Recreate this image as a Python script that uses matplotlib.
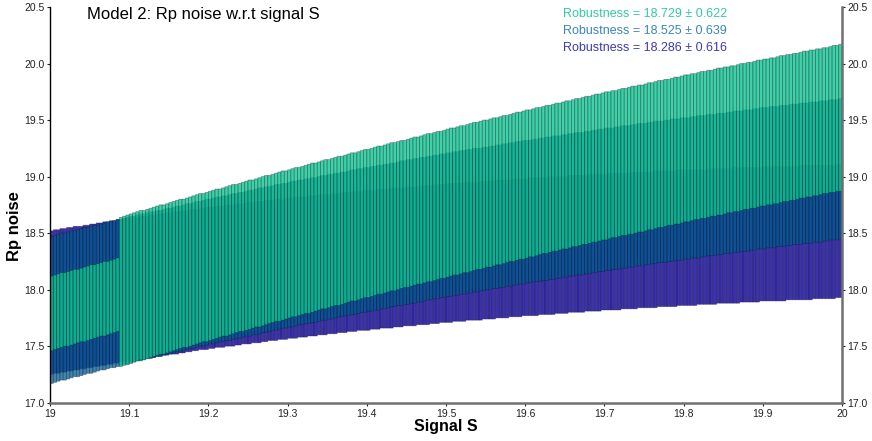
import numpy as np
import matplotlib
matplotlib.use("Agg")
import matplotlib.pyplot as plt

plt.rcParams['font.family'] = ['Liberation Sans', 'DejaVu Sans']

# ---------------- data ----------------
indigo_low = [
    17.25,17.26,17.26,17.27,17.27,17.28,17.28,17.29,17.29,17.30,17.30,17.31,17.31,17.32,17.32,17.33,17.33,17.34,17.34,17.35,17.35,17.36,17.36,17.37,
    17.37,17.38,17.38,17.39,17.39,17.40,17.40,17.40,17.41,17.41,17.42,17.42,17.43,17.43,17.43,17.44,17.44,17.45,17.45,17.46,17.46,17.47,17.47,17.47,
    17.48,17.48,17.49,17.49,17.49,17.50,17.50,17.50,17.51,17.51,17.52,17.52,17.52,17.53,17.53,17.53,17.54,17.54,17.55,17.55,17.55,17.56,17.56,17.56,
    17.57,17.57,17.57,17.58,17.58,17.58,17.59,17.59,17.59,17.60,17.60,17.60,17.61,17.61,17.61,17.62,17.62,17.62,17.63,17.63,17.63,17.64,17.64,17.64,
    17.64,17.65,17.65,17.65,17.66,17.66,17.66,17.66,17.67,17.67,17.67,17.68,17.68,17.68,17.68,17.69,17.69,17.69,17.69,17.70,17.70,17.70,17.71,17.71,
    17.71,17.71,17.72,17.72,17.72,17.72,17.73,17.73,17.73,17.73,17.73,17.74,17.74,17.74,17.74,17.75,17.75,17.75,17.75,17.76,17.76,17.76,17.76,17.77,
    17.77,17.77,17.77,17.77,17.78,17.78,17.78,17.78,17.78,17.79,17.79,17.79,17.79,17.80,17.80,17.80,17.80,17.80,17.81,17.81,17.81,17.81,17.81,17.82,
    17.82,17.82,17.82,17.82,17.82,17.83,17.83,17.83,17.83,17.83,17.84,17.84,17.84,17.84,17.84,17.84,17.85,17.85,17.85,17.85,17.85,17.85,17.86,17.86,
    17.86,17.86,17.86,17.86,17.87,17.87,17.87,17.87,17.87,17.87,17.88,17.88,17.88,17.88,17.88,17.88,17.88,17.89,17.89,17.89,17.89,17.89,17.89,17.90,
    17.90,17.90,17.90,17.90,17.90,17.90,17.90,17.91,17.91,17.91,17.91,17.91,17.91,17.91,17.91,17.92,17.92,17.92,17.92,17.92,17.92,17.92,17.93,17.93,
]
indigo_high = [
    18.52,18.53,18.53,18.54,18.54,18.55,18.55,18.56,18.56,18.56,18.57,18.57,18.58,18.58,18.59,18.59,18.60,18.60,18.61,18.61,18.62,18.62,18.63,18.63,
    18.63,18.64,18.64,18.65,18.65,18.65,18.66,18.66,18.67,18.67,18.67,18.68,18.68,18.69,18.69,18.69,18.70,18.70,18.71,18.71,18.71,18.72,18.72,18.73,
    18.73,18.73,18.74,18.74,18.74,18.75,18.75,18.75,18.76,18.76,18.76,18.77,18.77,18.77,18.78,18.78,18.78,18.79,18.79,18.79,18.80,18.80,18.80,18.81,
    18.81,18.81,18.82,18.82,18.82,18.82,18.83,18.83,18.83,18.84,18.84,18.84,18.84,18.85,18.85,18.85,18.86,18.86,18.86,18.86,18.87,18.87,18.87,18.88,
    18.88,18.88,18.88,18.89,18.89,18.89,18.89,18.90,18.90,18.90,18.90,18.90,18.91,18.91,18.91,18.91,18.92,18.92,18.92,18.92,18.93,18.93,18.93,18.93,
    18.94,18.94,18.94,18.94,18.94,18.95,18.95,18.95,18.95,18.95,18.96,18.96,18.96,18.96,18.96,18.97,18.97,18.97,18.97,18.97,18.98,18.98,18.98,18.98,
    18.98,18.99,18.99,18.99,18.99,18.99,18.99,19.00,19.00,19.00,19.00,19.00,19.00,19.01,19.01,19.01,19.01,19.01,19.01,19.02,19.02,19.02,19.02,19.02,
    19.02,19.03,19.03,19.03,19.03,19.03,19.03,19.03,19.04,19.04,19.04,19.04,19.04,19.04,19.04,19.05,19.05,19.05,19.05,19.05,19.05,19.05,19.06,19.06,
    19.06,19.06,19.06,19.06,19.06,19.06,19.06,19.07,19.07,19.07,19.07,19.07,19.07,19.07,19.07,19.08,19.08,19.08,19.08,19.08,19.08,19.08,19.08,19.08,
    19.09,19.09,19.09,19.09,19.09,19.09,19.09,19.09,19.09,19.09,19.09,19.10,19.10,19.10,19.10,19.10,19.10,19.10,19.10,19.10,19.10,19.10,19.11,19.11,
]
steel_low = [
    17.17,17.18,17.19,17.20,17.20,17.21,17.22,17.23,17.23,17.24,17.25,17.26,17.26,17.27,17.28,17.29,17.29,17.30,17.31,17.31,17.32,17.33,17.34,17.34,
    17.35,17.36,17.37,17.37,17.38,17.39,17.39,17.40,17.41,17.41,17.42,17.43,17.43,17.44,17.45,17.45,17.46,17.47,17.48,17.48,17.49,17.50,17.50,17.51,
    17.52,17.52,17.53,17.54,17.54,17.55,17.55,17.56,17.57,17.57,17.58,17.59,17.59,17.60,17.60,17.61,17.62,17.62,17.63,17.64,17.64,17.65,17.66,17.66,
    17.67,17.67,17.68,17.69,17.69,17.70,17.70,17.71,17.71,17.72,17.73,17.73,17.74,17.74,17.75,17.76,17.76,17.77,17.77,17.78,17.78,17.79,17.80,17.80,
    17.81,17.81,17.82,17.82,17.83,17.83,17.84,17.85,17.85,17.86,17.86,17.87,17.87,17.88,17.88,17.89,17.89,17.90,17.91,17.91,17.92,17.92,17.93,17.93,
    17.94,17.94,17.95,17.95,17.96,17.96,17.97,17.97,17.98,17.98,17.99,17.99,18.00,18.00,18.01,18.01,18.02,18.02,18.03,18.03,18.04,18.04,18.05,18.05,
    18.06,18.06,18.07,18.07,18.07,18.08,18.08,18.09,18.09,18.10,18.10,18.11,18.11,18.12,18.12,18.13,18.13,18.13,18.14,18.14,18.15,18.15,18.16,18.16,
    18.17,18.17,18.18,18.18,18.18,18.19,18.19,18.20,18.20,18.21,18.21,18.21,18.22,18.22,18.23,18.23,18.24,18.24,18.24,18.25,18.25,18.26,18.26,18.26,
    18.27,18.27,18.28,18.28,18.28,18.29,18.29,18.30,18.30,18.30,18.31,18.31,18.32,18.32,18.32,18.33,18.33,18.34,18.34,18.34,18.35,18.35,18.36,18.36,
    18.36,18.37,18.37,18.37,18.38,18.38,18.38,18.39,18.39,18.40,18.40,18.40,18.41,18.41,18.41,18.42,18.42,18.42,18.43,18.43,18.44,18.44,18.44,18.45,
]
steel_high = [
    18.47,18.48,18.49,18.50,18.50,18.51,18.52,18.52,18.53,18.54,18.55,18.55,18.56,18.57,18.57,18.58,18.59,18.60,18.60,18.61,18.62,18.62,18.63,18.64,
    18.65,18.65,18.66,18.67,18.67,18.68,18.69,18.69,18.70,18.70,18.71,18.72,18.72,18.73,18.74,18.74,18.75,18.76,18.76,18.77,18.78,18.78,18.79,18.80,
    18.80,18.81,18.82,18.82,18.83,18.83,18.84,18.85,18.85,18.86,18.86,18.87,18.88,18.88,18.89,18.90,18.90,18.91,18.91,18.92,18.93,18.93,18.94,18.94,
    18.95,18.96,18.96,18.97,18.97,18.98,18.98,18.99,18.99,19.00,19.01,19.01,19.02,19.02,19.03,19.03,19.04,19.04,19.05,19.06,19.06,19.07,19.07,19.08,
    19.08,19.09,19.09,19.10,19.10,19.11,19.11,19.12,19.12,19.13,19.14,19.14,19.15,19.15,19.16,19.16,19.17,19.17,19.18,19.18,19.19,19.19,19.20,19.20,
    19.21,19.21,19.22,19.22,19.23,19.23,19.24,19.24,19.25,19.25,19.25,19.26,19.26,19.27,19.27,19.28,19.28,19.29,19.29,19.30,19.30,19.31,19.31,19.32,
    19.32,19.32,19.33,19.33,19.34,19.34,19.35,19.35,19.36,19.36,19.36,19.37,19.37,19.38,19.38,19.39,19.39,19.39,19.40,19.40,19.41,19.41,19.42,19.42,
    19.43,19.43,19.43,19.44,19.44,19.45,19.45,19.45,19.46,19.46,19.47,19.47,19.47,19.48,19.48,19.49,19.49,19.49,19.50,19.50,19.51,19.51,19.51,19.52,
    19.52,19.52,19.53,19.53,19.54,19.54,19.54,19.55,19.55,19.55,19.56,19.56,19.56,19.57,19.57,19.58,19.58,19.58,19.59,19.59,19.59,19.60,19.60,19.61,
    19.61,19.61,19.62,19.62,19.62,19.63,19.63,19.63,19.64,19.64,19.64,19.65,19.65,19.65,19.66,19.66,19.66,19.67,19.67,19.67,19.68,19.68,19.68,19.69,
]
teal_low = [
    17.46,17.47,17.48,17.49,17.50,17.50,17.51,17.52,17.53,17.54,17.54,17.55,17.56,17.57,17.58,17.59,17.59,17.60,17.61,17.62,17.63,
    17.32,17.33,17.34,
    17.35,17.36,17.37,17.38,17.38,17.39,17.40,17.41,17.42,17.43,17.43,17.44,17.45,17.46,17.47,17.48,17.49,17.49,17.50,17.51,17.52,17.53,17.54,17.54,
    17.55,17.56,17.57,17.58,17.59,17.59,17.60,17.61,17.62,17.63,17.63,17.64,17.65,17.66,17.67,17.67,17.68,17.69,17.70,17.71,17.72,17.72,17.73,17.74,
    17.75,17.76,17.76,17.77,17.78,17.79,17.79,17.80,17.81,17.82,17.83,17.83,17.84,17.85,17.86,17.86,17.87,17.88,17.89,17.90,17.90,17.91,17.92,17.93,
    17.93,17.94,17.95,17.96,17.96,17.97,17.98,17.99,17.99,18.00,18.01,18.02,18.02,18.03,18.04,18.05,18.05,18.06,18.07,18.07,18.08,18.09,18.10,18.10,
    18.11,18.12,18.13,18.13,18.14,18.15,18.15,18.16,18.17,18.18,18.18,18.19,18.20,18.20,18.21,18.22,18.22,18.23,18.24,18.25,18.25,18.26,18.27,18.27,
    18.28,18.29,18.29,18.30,18.31,18.32,18.32,18.33,18.34,18.34,18.35,18.36,18.36,18.37,18.38,18.38,18.39,18.40,18.40,18.41,18.42,18.42,18.43,18.44,
    18.44,18.45,18.46,18.46,18.47,18.48,18.48,18.49,18.49,18.50,18.51,18.51,18.52,18.53,18.53,18.54,18.55,18.55,18.56,18.57,18.57,18.58,18.58,18.59,
    18.60,18.60,18.61,18.62,18.62,18.63,18.63,18.64,18.65,18.65,18.66,18.66,18.67,18.68,18.68,18.69,18.69,18.70,18.71,18.71,18.72,18.72,18.73,18.74,
    18.74,18.75,18.75,18.76,18.76,18.77,18.78,18.78,18.79,18.79,18.80,18.81,18.81,18.82,18.82,18.83,18.83,18.84,18.85,18.85,18.86,18.86,18.87,18.87,
]
teal_high = [
    18.12,18.13,18.14,18.15,18.15,18.16,18.17,18.18,18.18,18.19,18.20,18.21,18.22,18.22,18.23,18.24,18.25,18.25,18.26,18.27,18.28,
    18.64,18.65,18.66,
    18.67,18.68,18.69,18.70,18.70,18.71,18.72,18.73,18.74,18.75,18.75,18.76,18.77,18.78,18.79,18.80,18.80,18.81,18.82,18.83,18.84,18.85,18.85,18.86,
    18.87,18.88,18.89,18.89,18.90,18.91,18.92,18.93,18.93,18.94,18.95,18.96,18.97,18.97,18.98,18.99,19.00,19.01,19.01,19.02,19.03,19.04,19.05,19.05,
    19.06,19.07,19.08,19.08,19.09,19.10,19.11,19.12,19.12,19.13,19.14,19.15,19.15,19.16,19.17,19.18,19.18,19.19,19.20,19.21,19.21,19.22,19.23,19.24,
    19.24,19.25,19.26,19.27,19.27,19.28,19.29,19.30,19.30,19.31,19.32,19.32,19.33,19.34,19.35,19.35,19.36,19.37,19.38,19.38,19.39,19.40,19.40,19.41,
    19.42,19.43,19.43,19.44,19.45,19.45,19.46,19.47,19.48,19.48,19.49,19.50,19.50,19.51,19.52,19.52,19.53,19.54,19.54,19.55,19.56,19.57,19.57,19.58,
    19.59,19.59,19.60,19.61,19.61,19.62,19.63,19.63,19.64,19.65,19.65,19.66,19.67,19.67,19.68,19.69,19.69,19.70,19.71,19.71,19.72,19.73,19.73,19.74,
    19.75,19.75,19.76,19.76,19.77,19.78,19.78,19.79,19.80,19.80,19.81,19.81,19.82,19.83,19.83,19.84,19.85,19.85,19.86,19.86,19.87,19.88,19.88,19.89,
    19.90,19.90,19.91,19.91,19.92,19.93,19.93,19.94,19.94,19.95,19.96,19.96,19.97,19.97,19.98,19.98,19.99,20.00,20.00,20.01,20.01,20.02,20.03,20.03,
    20.04,20.04,20.05,20.05,20.06,20.07,20.07,20.08,20.08,20.09,20.09,20.10,20.11,20.11,20.12,20.12,20.13,20.13,20.14,20.14,20.15,20.16,20.16,20.17,
]

robust_labels = ["Robustness = 18.729 \u00b1 0.622",
                 "Robustness = 18.525 \u00b1 0.639",
                 "Robustness = 18.286 \u00b1 0.616"]
x_ticks = [19, 19.1, 19.2, 19.3, 19.4, 19.5, 19.6, 19.7, 19.8, 19.9, 20]
x_ticklabels = ["19", "19.1", "19.2", "19.3", "19.4", "19.5", "19.6", "19.7", "19.8", "19.9", "20"]
y_ticks = [17.0, 17.5, 18.0, 18.5, 19.0, 19.5, 20.0, 20.5]

for arr in (indigo_low, indigo_high, steel_low, steel_high, teal_low, teal_high):
    assert len(arr) == 240, len(arr)

# signal grid (bar left edges)
n = len(teal_low)
signal = np.linspace(19.0, 20.0, n + 1)[:-1]
bar_w = 1.0 / n

# ---------------- figure ----------------
W, H = 872, 441
fig = plt.figure(figsize=(W / 100, H / 100), dpi=100)
ax = fig.add_axes([50 / W, 1 - 402.7 / H, 792 / W, (402.7 - 7) / H])

face = {
    "indigo": (0.10, 0.06, 0.62, 0.85),
    "steel": (0.00, 0.36, 0.57, 0.75),
    "teal": (0.05, 0.78, 0.57, 0.80),
}
edge = (0.05, 0.05, 0.15, 0.35)

for name, lo, hi in (("indigo", indigo_low, indigo_high),
                     ("steel", steel_low, steel_high),
                     ("teal", teal_low, teal_high)):
    lo = np.asarray(lo)
    hi = np.asarray(hi)
    bars = ax.bar(signal, hi - lo, bottom=lo, width=bar_w, align="edge",
                  facecolor=face[name], edgecolor=edge, linewidth=0.6)
    for b in bars:
        b.set_snap(False)

ax.set_xlim(19, 20)
ax.set_ylim(17, 20.5)
ax.set_xticks(x_ticks)
ax.set_xticklabels(x_ticklabels)
ax.set_yticks(y_ticks)
ax.set_yticklabels([f"{v:.1f}" for v in y_ticks])

ax.spines["top"].set_visible(False)
ax.spines["left"].set_color("black")
ax.spines["left"].set_linewidth(1.0)
ax.spines["right"].set_color("#707070")
ax.spines["right"].set_linewidth(1.8)
ax.spines["bottom"].set_color("#707070")
ax.spines["bottom"].set_linewidth(1.8)

ax.tick_params(axis="y", which="both", left=True, right=True,
               labelleft=True, labelright=True, direction="out",
               length=2.5, width=0.8, pad=1.2, labelsize=7.5, colors="#222222")
ax.tick_params(axis="x", direction="out", length=2.5, width=0.8, pad=2,
               labelsize=7.5, colors="#222222")

fig.text(87 / W, 1 - 15 / H, "Model 2: Rp noise w.r.t signal S",
         fontsize=12, ha="left", va="center", color="black")

legend_colors = ["#33c9a2", "#3a86b8", "#3b3bb2"]
for k, (lab, c) in enumerate(zip(robust_labels, legend_colors)):
    fig.text(563 / W, 1 - (14 + 16.8 * k) / H, lab, fontsize=9,
             ha="left", va="center", color=c)

fig.text(445.5 / W, 1 - 426 / H, "Signal S", fontsize=11.5, fontweight="bold",
         ha="center", va="center")
fig.text(14 / W, 1 - 226 / H, "Rp noise", fontsize=12, fontweight="bold",
         ha="center", va="center", rotation=90)

fig.savefig("out.png", dpi=100)
